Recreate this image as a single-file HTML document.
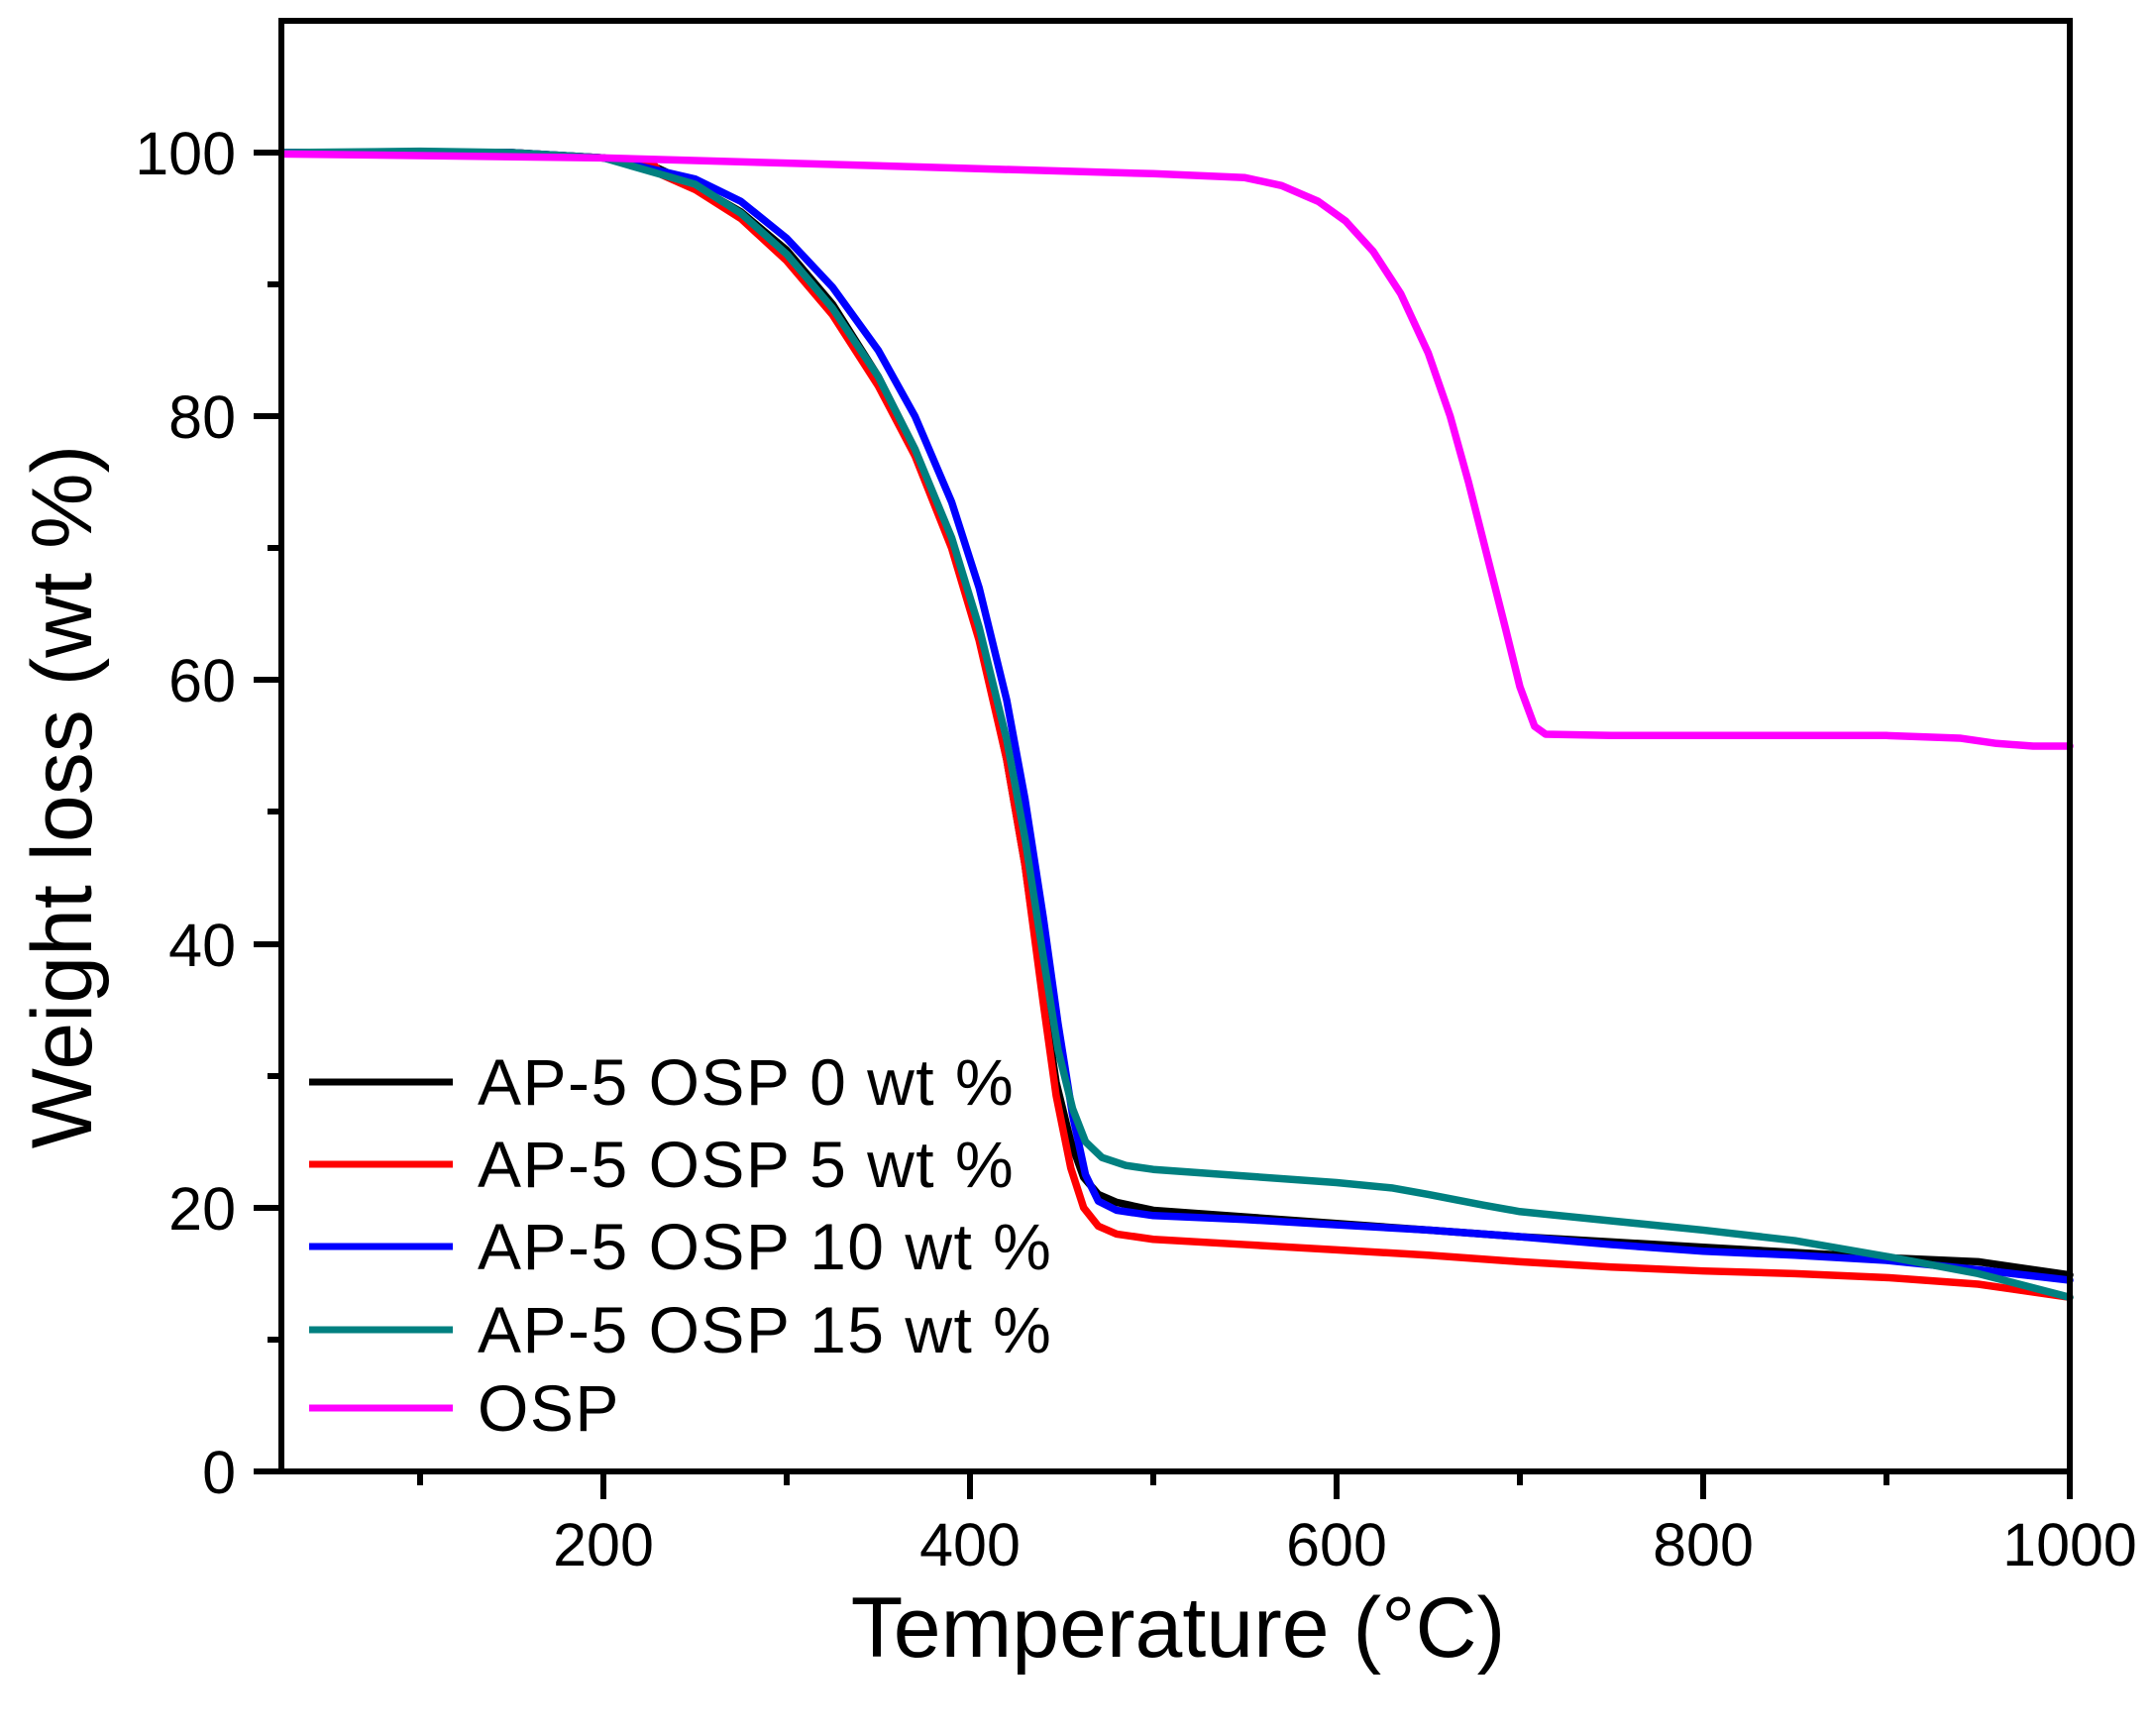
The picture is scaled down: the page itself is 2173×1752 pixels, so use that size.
<!DOCTYPE html>
<html><head><meta charset="utf-8"><style>
html,body{margin:0;padding:0;background:#fff;}
svg{display:block;}
text{font-family:"Liberation Sans",Arial,sans-serif;fill:#000;}
</style></head><body>
<svg width="2173" height="1752" viewBox="0 0 2173 1752" xmlns="http://www.w3.org/2000/svg">
<rect width="2173" height="1752" fill="#fff"/>
<g transform="matrix(1.85,0,0,-13.31,239.0,1485)" fill="none" stroke-width="7.5" stroke-linejoin="round" stroke-linecap="round">
<polyline vector-effect="non-scaling-stroke" stroke="#000" points="24.3,100 150,100 200,99.6 230,98.8 250,97.5 275,95.5 300,92.6 325,88.5 350,83 370,77.5 390,70.5 405,63.5 420,54 430,46 440,36 447,29.5 455,25 462,22.3 470,21 480,20.4 500,19.8 550,19.3 600,18.8 650,18.3 700,17.8 750,17.4 800,17.0 850,16.6 900,16.2 950,15.9 1000,14.9"/>
<polyline vector-effect="non-scaling-stroke" stroke="#ff0000" points="24.3,100 150,100 200,99.6 228,99 232,98.3 250,97.2 275,95 300,91.8 325,87.7 350,82.3 370,77 390,70 405,63 420,54 430,46 440,35.5 447,28.5 455,23 462,20 470,18.6 480,18 500,17.6 550,17.2 600,16.8 650,16.4 700,15.9 750,15.5 800,15.2 850,15.0 900,14.7 950,14.2 1000,13.2"/>
<polyline vector-effect="non-scaling-stroke" stroke="#0000ff" points="24.3,100 150,100 200,99.6 250,98.0 275,96.3 300,93.5 325,89.8 350,85 370,80 390,73.5 405,67 420,58.5 430,51 440,42 448,34 456,27 463,22.5 470,20.5 480,19.8 500,19.4 550,19.1 600,18.7 650,18.3 700,17.8 750,17.2 800,16.7 850,16.4 900,16.0 950,15.3 1000,14.5"/>
<polyline vector-effect="non-scaling-stroke" stroke="#008080" points="24.3,100 100,100.1 150,100 200,99.6 250,97.6 275,95.4 300,92.3 325,88.2 350,83 370,77.5 390,70.8 405,64 420,55.5 430,48 440,39 448,32 456,27.5 463,25 472,23.8 485,23.2 500,22.9 550,22.4 600,21.9 630,21.5 650,21.0 680,20.2 700,19.7 750,19.0 800,18.3 850,17.5 900,16.3 950,15.0 1000,13.2"/>
<polyline vector-effect="non-scaling-stroke" stroke="#ff00ff" points="24.3,99.9 200,99.6 300,99.2 400,98.8 500,98.4 550,98.1 570,97.5 590,96.3 605,94.8 620,92.5 635,89.3 650,84.8 662,80 672,75 682,69.5 692,64 700,59.5 708,56.5 714,55.9 750,55.8 850,55.8 900,55.8 940,55.6 960,55.2 980,55.0 1000,55.0"/>
</g>
<g stroke="#000" stroke-width="6" fill="none">
<rect x="284" y="21" width="1805" height="1464"/>
<path d="M256,1485H284M256,1219H284M256,953H284M256,686H284M256,420H284M256,154H284"/>
<path d="M270,1352H284M270,1086H284M270,819H284M270,553H284M270,287H284"/>
<path d="M609,1485V1513M979,1485V1513M1349,1485V1513M1719,1485V1513M2089,1485V1513"/>
<path d="M424,1485V1499M794,1485V1499M1164,1485V1499M1534,1485V1499M1904,1485V1499"/>
</g>
<g font-size="61" text-anchor="end">
<text x="238" y="1507">0</text>
<text x="238" y="1241">20</text>
<text x="238" y="975">40</text>
<text x="238" y="708">60</text>
<text x="238" y="442">80</text>
<text x="238" y="176">100</text>
</g>
<g font-size="61" text-anchor="middle">
<text x="609" y="1580">200</text>
<text x="979" y="1580">400</text>
<text x="1349" y="1580">600</text>
<text x="1719" y="1580">800</text>
<text x="2089" y="1580">1000</text>
</g>
<text x="1189" y="1672" font-size="86" text-anchor="middle">Temperature (°C)</text>
<text transform="translate(92,804) rotate(-90)" font-size="86" text-anchor="middle">Weight loss (wt %)</text>
<g stroke-width="7">
<line x1="312" y1="1092" x2="457" y2="1092" stroke="#000"/>
<line x1="312" y1="1175" x2="457" y2="1175" stroke="#ff0000"/>
<line x1="312" y1="1258" x2="457" y2="1258" stroke="#0000ff"/>
<line x1="312" y1="1342" x2="457" y2="1342" stroke="#008080"/>
<line x1="312" y1="1421" x2="457" y2="1421" stroke="#ff00ff"/>
</g>
<g font-size="66" letter-spacing="1.5">
<text x="482" y="1115">AP-5 OSP 0 wt %</text>
<text x="482" y="1198">AP-5 OSP 5 wt %</text>
<text x="482" y="1281">AP-5 OSP 10 wt %</text>
<text x="482" y="1365">AP-5 OSP 15 wt %</text>
<text x="482" y="1444">OSP</text>
</g>
</svg>
</body></html>
